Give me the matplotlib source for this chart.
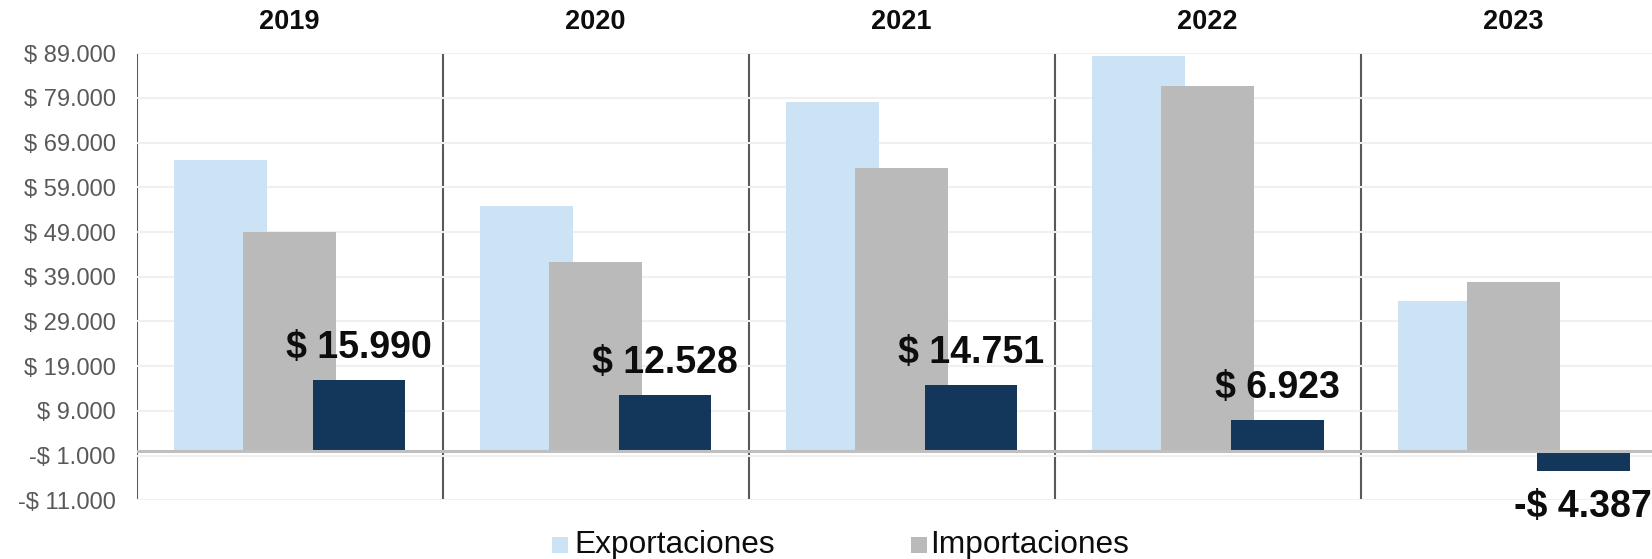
import numpy as np
import matplotlib.pyplot as plt
from matplotlib.patches import Rectangle
from matplotlib import ticker, transforms

plt.rcParams['font.family'] = ['Liberation Sans', 'DejaVu Sans']

years = ['2019', '2020', '2021', '2022', '2023']
exportaciones = [65100, 54900, 78100, 88500, 33500]
importaciones = [49110, 42372, 63349, 81577, 37887]
balanza = [15990, 12528, 14751, 6923, -4387]
balanza_labels = ['$ 15.990', '$ 12.528', '$ 14.751', '$ 6.923', '-$ 4.387']
series_names = ['Exportaciones', 'Importaciones']

c_exp = '#CCE2F5'
c_imp = '#BABABA'
c_bal = '#13375B'

W, H = 1652, 559
fig = plt.figure(figsize=(W / 100, H / 100), dpi=100)
ax = fig.add_axes([0.0827, 0.105, 1.0089 - 0.0827, 0.9047 - 0.105])

x = np.arange(len(years))
w = 0.303
off = 0.227
ax.bar(x - off, exportaciones, w, color=c_exp, zorder=2)
ax.bar(x, importaciones, w, color=c_imp, zorder=3)
ax.bar(x + off, balanza, w, color=c_bal, zorder=4)

ax.set_xlim(-0.5, len(years) - 0.5)
ax.set_ylim(-11000, 89000)
ax.set_yticks(np.arange(-11000, 89001, 10000))

def fmt(v, pos):
    s = '{:,.0f}'.format(abs(v)).replace(',', '.')
    return ('-$ ' if v < 0 else '$ ') + s

ax.yaxis.set_major_formatter(ticker.FuncFormatter(fmt))
ax.tick_params(axis='y', length=0, pad=15, labelsize=17, labelcolor='#595959')
ax.set_xticks([])
ax.grid(axis='y', color='#F0F0F0', linewidth=1.5, zorder=0)
for s in ax.spines.values():
    s.set_visible(False)

# zero line and group separators
ax.axhline(0, color='#BFBFBF', linewidth=2.2, zorder=5)
for b in np.arange(-0.5, len(years), 1.0):
    ax.axvline(b, color='#595959', linewidth=1.5, zorder=1)

# year headers
trans = transforms.blended_transform_factory(ax.transData, ax.transAxes)
for i, yr in enumerate(years):
    ax.text(i, 1.07, yr, transform=trans, ha='center', va='center',
            fontsize=19.5, fontweight='bold', color='#0D0D0D')

# balance labels
for i, (v, lab) in enumerate(zip(balanza, balanza_labels)):
    dy = 23 if v >= 0 else -26
    ax.annotate(lab, (i + off, v), xytext=(0, dy), textcoords='offset points',
                ha='center', va='center', fontsize=27, fontweight='bold',
                color='#0D0D0D', zorder=6)

# legend (only the first two series are shown)
for name, col, x0, xt in zip(series_names, [c_exp, c_imp], [552, 911], [574, 930]):
    fig.add_artist(Rectangle((x0 / W, 1 - 552.5 / H), 16 / W, 15.7 / H,
                             transform=fig.transFigure, color=col, lw=0))
    fig.text(xt / W, 1 - 553.3 / H, name, ha='left', va='baseline',
             fontsize=22.8, color='#0D0D0D')

fig.savefig('out.png', dpi=100)
